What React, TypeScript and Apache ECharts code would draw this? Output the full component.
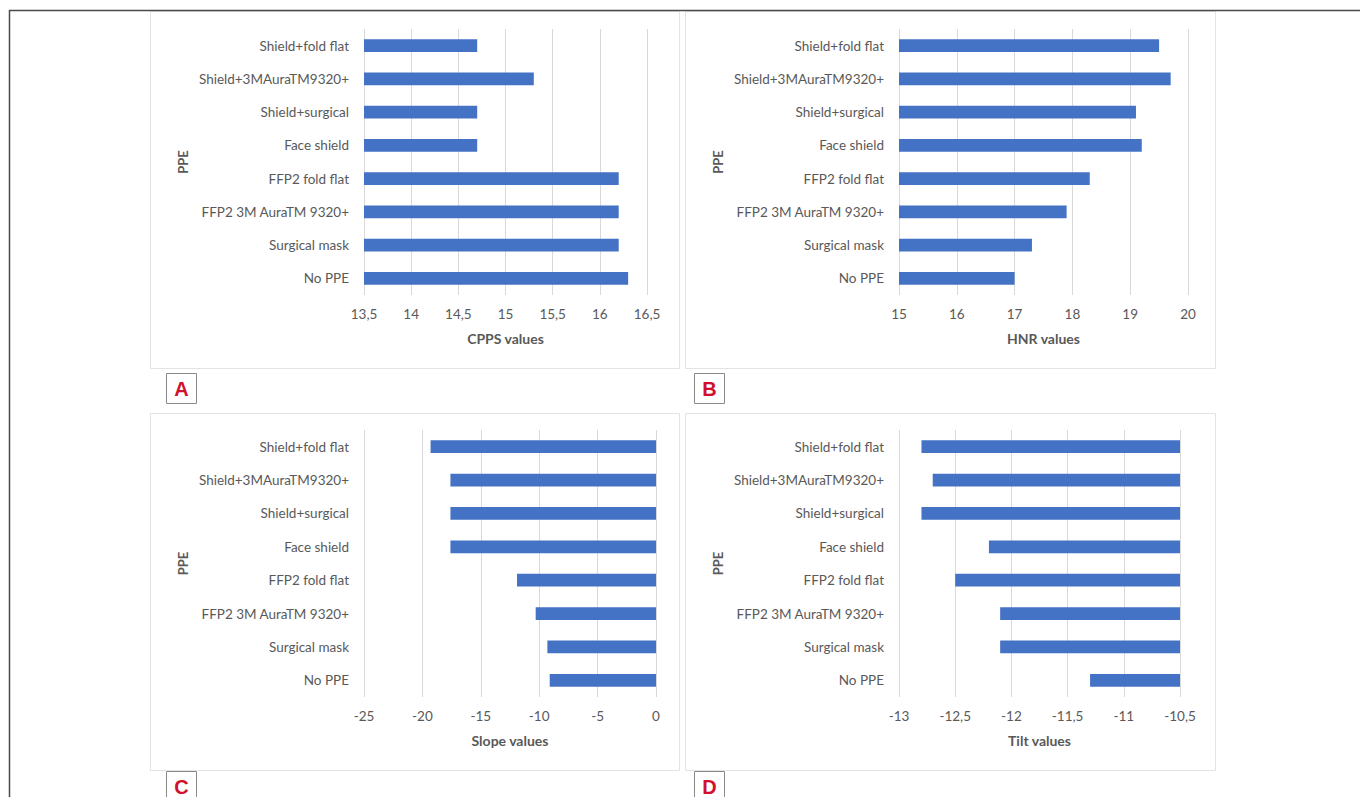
import React, { useEffect, useRef } from "react";
import * as echarts from "echarts";

// Categories listed bottom-to-top (ECharts category axis order)
const categories = [
  "No PPE",
  "Surgical mask",
  "FFP2 3M AuraTM 9320+",
  "FFP2 fold flat",
  "Face shield",
  "Shield+surgical",
  "Shield+3MAuraTM9320+",
  "Shield+fold flat",
];

const cppsValues = [16.3, 16.2, 16.2, 16.2, 14.7, 14.7, 15.3, 14.7];
const hnrValues = [17.0, 17.3, 17.9, 18.3, 19.2, 19.1, 19.7, 19.5];
const slopeValues = [-9.1, -9.3, -10.3, -11.9, -17.6, -17.6, -17.6, -19.3];
const tiltValues = [-11.3, -12.1, -12.1, -12.5, -12.2, -12.8, -12.7, -12.8];

// axis [min, max, interval]
const cppsAxis = [13.5, 16.5, 0.5];
const hnrAxis = [15, 20, 1];
const slopeAxis = [-25, 0, 5];
const tiltAxis = [-13, -10.5, 0.5];

const axisTitles = ["CPPS values", "HNR values", "Slope values", "Tilt values"];
const panelLetters = ["A", "B", "C", "D"];
const yAxisTitle = "PPE";

const TEXT = "#595959";
const GRIDLINE = "#d9d9d9";
const BAR = "#4472c4";
const FONT = "Lato, 'Open Sans', sans-serif";

const panelData = [
  { values: cppsValues, axis: cppsAxis },
  { values: hnrValues, axis: hnrAxis },
  { values: slopeValues, axis: slopeAxis },
  { values: tiltValues, axis: tiltAxis },
];

const gridLayout = [
  { left: 364, top: 29, width: 283, height: 266 },
  { left: 899, top: 29, width: 289, height: 266 },
  { left: 364, top: 430, width: 292, height: 267 },
  { left: 899, top: 430, width: 281, height: 267 },
];

const panelFrames = [
  { x: 150, y: 11, width: 529, height: 357 },
  { x: 685, y: 11, width: 530, height: 357 },
  { x: 150, y: 413, width: 529, height: 357 },
  { x: 685, y: 413, width: 530, height: 357 },
];

const letterBoxes = [
  { x: 166, y: 373 },
  { x: 694, y: 373 },
  { x: 166, y: 771 },
  { x: 694, y: 771 },
];

const fmt = (v: number) => String(Math.round(v * 100) / 100).replace(".", ",");

export default function App() {
  const ref = useRef<HTMLDivElement>(null);

  useEffect(() => {
    if (!ref.current) return;
    const chart = echarts.init(ref.current, undefined, { renderer: "svg" });

    const graphics: any[] = [];
    panelFrames.forEach((f) => {
      graphics.push({
        type: "rect",
        shape: { x: f.x + 0.5, y: f.y + 0.5, width: f.width, height: f.height },
        style: { fill: "#ffffff", stroke: "#e3e3e3", lineWidth: 1 },
        z: -10,
        silent: true,
      });
    });
    letterBoxes.forEach((b, i) => {
      graphics.push({
        type: "group",
        x: b.x,
        y: b.y,
        children: [
          {
            type: "rect",
            shape: { x: 0.5, y: 0.5, width: 30, height: 30 },
            style: { fill: "#ffffff", stroke: "#8a8a8a", lineWidth: 1 },
          },
          {
            type: "text",
            x: 15.5,
            y: 16,
            style: {
              text: panelLetters[i],
              fill: "#d0102c",
              font: "bold 20px 'Liberation Sans', Arial, sans-serif",
              textAlign: "center",
              textVerticalAlign: "middle",
            },
          },
        ],
      });
    });
    graphics.push({
      type: "polyline",
      shape: { points: [[9.5, 797], [9.5, 10.5], [1360, 10.5]] },
      style: { stroke: "#4a4a4a", lineWidth: 1.5, fill: "none" },
      silent: true,
    });

    const option: any = {
      animation: false,
      backgroundColor: "#ffffff",
      textStyle: { fontFamily: FONT },
      grid: gridLayout.map((g) => ({ ...g, containLabel: false })),
      xAxis: panelData.map((p, i) => ({
        type: "value",
        gridIndex: i,
        min: p.axis[0],
        max: p.axis[1],
        interval: p.axis[2],
        axisLine: { show: false },
        axisTick: { show: false },
        splitLine: { show: true, lineStyle: { color: GRIDLINE, width: 1 } },
        axisLabel: {
          color: TEXT,
          fontSize: 13.5,
          fontFamily: FONT,
          margin: 12,
          formatter: fmt,
        },
        name: axisTitles[i],
        nameLocation: "middle",
        nameGap: 36,
        nameTextStyle: {
          color: TEXT,
          fontSize: 14,
          fontWeight: "bold",
          fontFamily: FONT,
        },
      })),
      yAxis: panelData.map((_, i) => ({
        type: "category",
        gridIndex: i,
        data: categories,
        axisLine: { show: false, onZero: false },
        axisTick: { show: false },
        splitLine: { show: false },
        axisLabel: {
          color: TEXT,
          fontSize: 13.5,
          fontFamily: FONT,
          margin: 15,
        },
        name: yAxisTitle,
        nameLocation: "middle",
        nameGap: 175,
        nameRotate: 90,
        nameTextStyle: {
          color: TEXT,
          fontSize: 13,
          fontWeight: "bold",
          fontFamily: FONT,
        },
      })),
      series: panelData.map((p, i) => ({
        type: "bar",
        xAxisIndex: i,
        yAxisIndex: i,
        data: p.values,
        barWidth: "38%",
        clip: true,
        itemStyle: { color: BAR },
      })),
      graphic: graphics,
    };

    chart.setOption(option);
    return () => chart.dispose();
  }, []);

  return (
    <div
      ref={ref}
      style={{ position: "fixed", left: 0, top: 0, width: 1360, height: 797, background: "#fff" }}
    />
  );
}
